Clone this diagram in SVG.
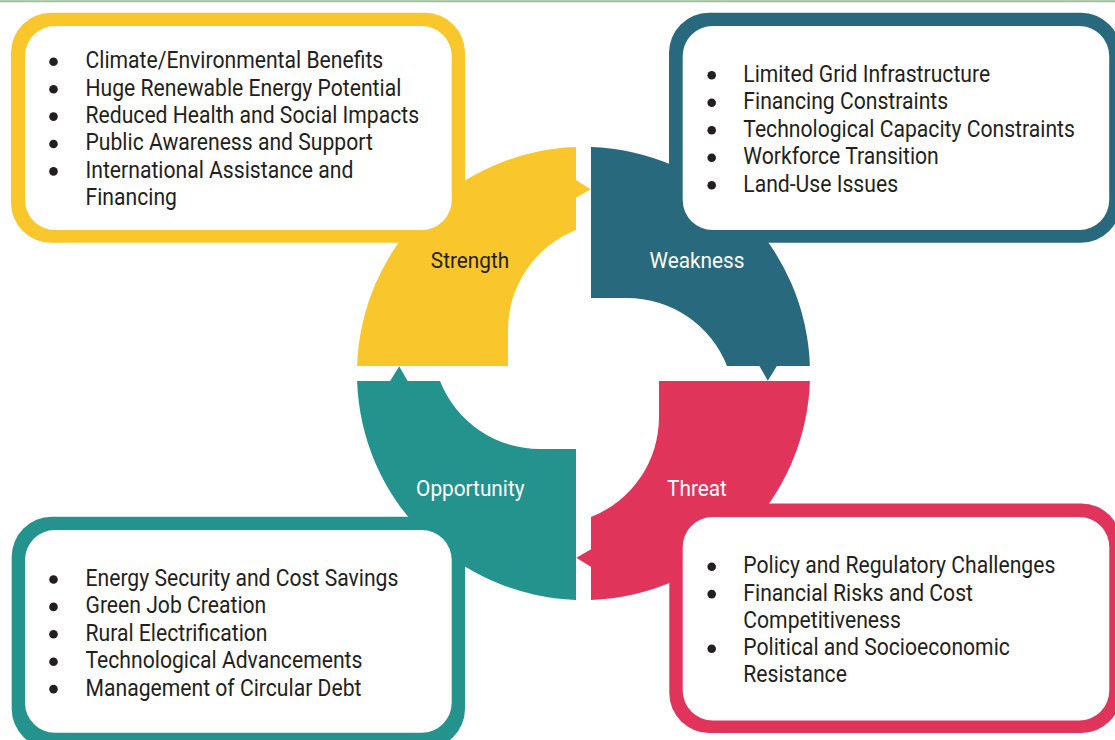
<svg xmlns="http://www.w3.org/2000/svg" width="1115" height="740" viewBox="0 0 1115 740">
<style>
.item{font-family:Roboto,"Liberation Sans",sans-serif;font-size:23px;fill:#231f20}
.lbl{font-family:Roboto,"Liberation Sans",sans-serif;font-size:22.6px;text-anchor:middle}
.dot{fill:#231f20}
.panel{fill:#ffffff}
.s{fill:#f9c72b}
.w{fill:#29697d}
.o{fill:#25938d}
.t{fill:#e1345b}
</style>
<defs>
<path id="seg" d="M357.1,366 A226.5,226.5 0 0 1 576,147.1 L576,230 A107.5,107.5 0 0 0 508,330 L508,366 Z"/>
<path id="arr" d="M575,179.5 L590.7,189.2 L575,198.2 Z"/>
</defs>
<rect x="0" y="0" width="1115" height="740" fill="#ffffff"/>
<line x1="0" y1="1.3" x2="1115" y2="1.3" stroke="#9cbf98" stroke-width="2"/>

<g id="strength">
<rect class="s" x="11" y="12.7" width="454" height="230" rx="40"/>
<use href="#seg" class="s"/>
<rect class="panel" x="25" y="26" width="426.7" height="204" rx="30"/>
<g transform="translate(470 0) scale(0.92 1)"><text class="lbl" x="0" y="268.3" fill="#231f20">Strength</text></g>
<circle class="dot" cx="53.5" cy="61.8" r="4.3"/>
<circle class="dot" cx="53.5" cy="89.2" r="4.3"/>
<circle class="dot" cx="53.5" cy="116.6" r="4.3"/>
<circle class="dot" cx="53.5" cy="144" r="4.3"/>
<circle class="dot" cx="53.5" cy="171.4" r="4.3"/>
<g transform="translate(85.5 0) scale(0.92 1)">
<text class="item" x="0" y="68.3">Climate/Environmental Benefits</text>
<text class="item" x="0" y="95.7">Huge Renewable Energy Potential</text>
<text class="item" x="0" y="123.1">Reduced Health and Social Impacts</text>
<text class="item" x="0" y="150.5">Public Awareness and Support</text>
<text class="item" x="0" y="177.9">International Assistance and</text>
<text class="item" x="0" y="205.3">Financing</text>
</g>
</g>

<g id="weakness">
<rect class="w" x="669" y="12.7" width="452" height="230" rx="40"/>
<use href="#seg" class="w" transform="rotate(90 583.5 373.5)"/>
<rect class="panel" x="682.7" y="26" width="426.5" height="204" rx="30"/>
<g transform="translate(697 0) scale(0.92 1)"><text class="lbl" x="0" y="268.3" fill="#ffffff">Weakness</text></g>
<circle class="dot" cx="711.7" cy="75.2" r="4.3"/>
<circle class="dot" cx="711.7" cy="102.7" r="4.3"/>
<circle class="dot" cx="711.7" cy="130.2" r="4.3"/>
<circle class="dot" cx="711.7" cy="157.7" r="4.3"/>
<circle class="dot" cx="711.7" cy="185.2" r="4.3"/>
<g transform="translate(743.3 0) scale(0.92 1)">
<text class="item" x="0" y="81.7">Limited Grid Infrastructure</text>
<text class="item" x="0" y="109.2">Financing Constraints</text>
<text class="item" x="0" y="136.7">Technological Capacity Constraints</text>
<text class="item" x="0" y="164.2">Workforce Transition</text>
<text class="item" x="0" y="191.7">Land-Use Issues</text>
</g>
</g>

<g id="threat">
<rect class="t" x="669.3" y="503.5" width="452" height="229.5" rx="40"/>
<use href="#seg" class="t" transform="rotate(180 583.5 373.5)"/>
<rect class="panel" x="682.7" y="517" width="426.6" height="203.5" rx="30"/>
<g transform="translate(697 0) scale(0.92 1)"><text class="lbl" x="0" y="496" fill="#ffffff">Threat</text></g>
<circle class="dot" cx="711.7" cy="566.8" r="4.3"/>
<circle class="dot" cx="711.7" cy="594.1" r="4.3"/>
<circle class="dot" cx="711.7" cy="648.7" r="4.3"/>
<g transform="translate(743.3 0) scale(0.92 1)">
<text class="item" x="0" y="573.3">Policy and Regulatory Challenges</text>
<text class="item" x="0" y="600.6">Financial Risks and Cost</text>
<text class="item" x="0" y="627.9">Competitiveness</text>
<text class="item" x="0" y="655.2">Political and Socioeconomic</text>
<text class="item" x="0" y="682.5">Resistance</text>
</g>
</g>

<g id="opportunity">
<rect class="o" x="11.7" y="516.7" width="453.3" height="232" rx="40"/>
<use href="#seg" class="o" transform="rotate(270 583.5 373.5)"/>
<rect class="panel" x="25" y="530" width="426.7" height="202.7" rx="30"/>
<g transform="translate(470.3 0) scale(0.92 1)"><text class="lbl" x="0" y="496" fill="#ffffff">Opportunity</text></g>
<circle class="dot" cx="53.5" cy="579.5" r="4.3"/>
<circle class="dot" cx="53.5" cy="606.9" r="4.3"/>
<circle class="dot" cx="53.5" cy="634.3" r="4.3"/>
<circle class="dot" cx="53.5" cy="661.7" r="4.3"/>
<circle class="dot" cx="53.5" cy="689.1" r="4.3"/>
<g transform="translate(85.5 0) scale(0.92 1)">
<text class="item" x="0" y="586">Energy Security and Cost Savings</text>
<text class="item" x="0" y="613.4">Green Job Creation</text>
<text class="item" x="0" y="640.8">Rural Electrification</text>
<text class="item" x="0" y="668.2">Technological Advancements</text>
<text class="item" x="0" y="695.6">Management of Circular Debt</text>
</g>
</g>

<g id="connectors">
<use href="#arr" class="s"/>
<use href="#arr" class="w" transform="rotate(90 583.5 373.5)"/>
<use href="#arr" class="t" transform="rotate(180 583.5 373.5)"/>
<use href="#arr" class="o" transform="rotate(270 583.5 373.5)"/>
</g>
</svg>
